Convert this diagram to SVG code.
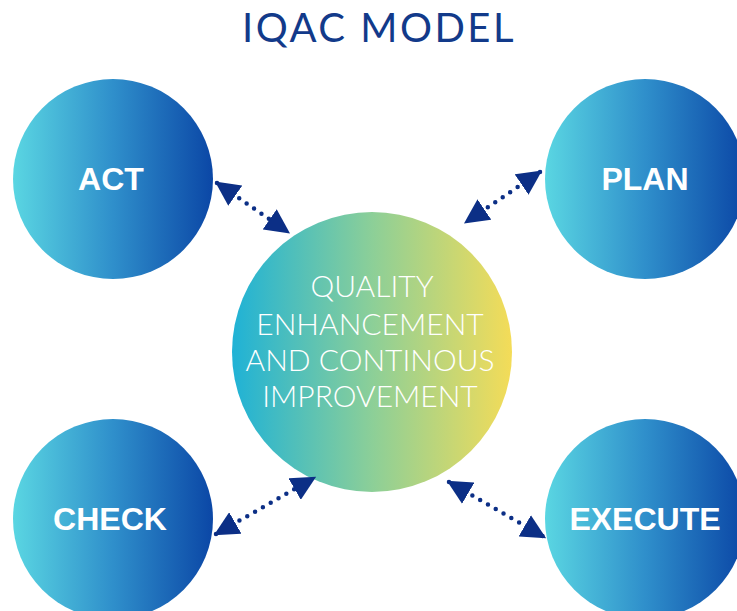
<svg xmlns="http://www.w3.org/2000/svg" width="737" height="611" viewBox="0 0 737 611">
<defs>
<linearGradient id="gOuter" x1="0" y1="0" x2="1" y2="0">
<stop offset="0" stop-color="#5ad6e2"/>
<stop offset="0.5" stop-color="#2f8fcb"/>
<stop offset="1" stop-color="#0b47a6"/>
</linearGradient>
<linearGradient id="gCenter" x1="0" y1="0" x2="1" y2="0">
<stop offset="0" stop-color="#1fb2d6"/>
<stop offset="0.5" stop-color="#8ccf98"/>
<stop offset="1" stop-color="#f4dc58"/>
</linearGradient>
<marker id="ah" viewBox="0 0 10 10" refX="9" refY="5" markerWidth="5.5" markerHeight="5.5" orient="auto-start-reverse" markerUnits="strokeWidth">
<path d="M0,0 L10,5 L0,10 Z" fill="#0c2f86"/>
</marker>
<style>
.outer{fill:url(#gOuter)}
.lbl{font-family:"Liberation Sans",Arial,sans-serif;font-weight:bold;font-size:32px;fill:#ffffff;text-anchor:middle}
.ctr{font-family:"Lato","Open Sans",sans-serif;font-weight:300;font-size:30px;fill:#ffffff;text-anchor:middle}
.con{stroke:#0c2f86;stroke-width:4.5;stroke-linecap:round;stroke-dasharray:0 9;fill:none;marker-start:url(#ah);marker-end:url(#ah)}
</style>
</defs>
<rect width="737" height="611" fill="#ffffff"/>
<text x="379" y="42" font-family="Lato,'Open Sans',sans-serif" font-size="40" fill="#123a8a" text-anchor="middle" letter-spacing="2.5">IQAC MODEL</text>
<g id="center">
<circle cx="372" cy="352" r="140" fill="url(#gCenter)"/>
<text class="ctr" x="372" y="297">QUALITY</text>
<text class="ctr" x="370" y="335">ENHANCEMENT</text>
<text class="ctr" x="370" y="371">AND CONTINOUS</text>
<text class="ctr" x="370" y="407">IMPROVEMENT</text>
</g>
<g id="act">
<circle class="outer" cx="113" cy="179" r="100"/>
<text class="lbl" x="111" y="190">ACT</text>
</g>
<g id="plan">
<circle class="outer" cx="645" cy="179" r="100"/>
<text class="lbl" x="645" y="190">PLAN</text>
</g>
<g id="check">
<circle class="outer" cx="113" cy="519" r="100"/>
<text class="lbl" x="110" y="530">CHECK</text>
</g>
<g id="execute">
<circle class="outer" cx="645" cy="519" r="100"/>
<text class="lbl" x="645" y="530">EXECUTE</text>
</g>
<g id="connectors">
<line class="con" x1="217" y1="183" x2="288" y2="232"/>
<line class="con" x1="540" y1="172" x2="466" y2="222"/>
<line class="con" x1="216" y1="534" x2="314" y2="478"/>
<line class="con" x1="449" y1="482" x2="544" y2="537"/>
</g>
</svg>
